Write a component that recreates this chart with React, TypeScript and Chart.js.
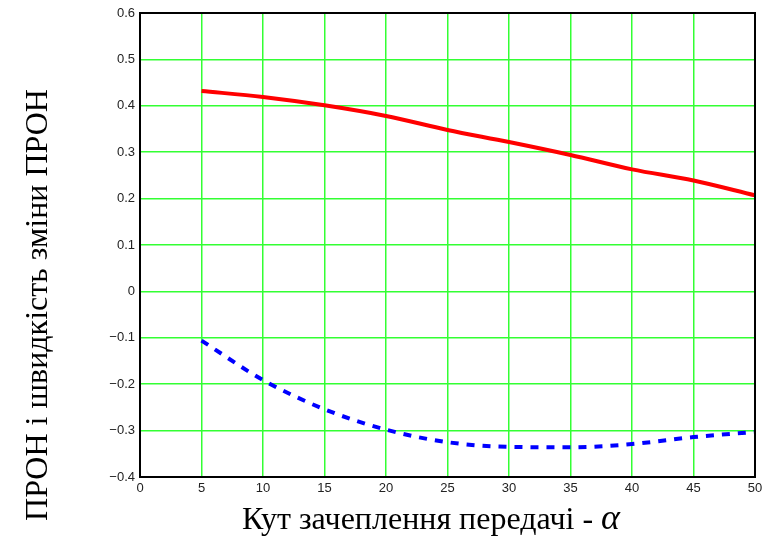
import React, { useEffect, useRef } from "react";
import { Chart, registerables } from "chart.js";

Chart.register(...registerables);

const xValues = [5, 10, 15, 20, 25, 30, 35, 40, 45, 50];
const pronValues = [0.432, 0.419, 0.401, 0.378, 0.348, 0.322, 0.294, 0.263, 0.239, 0.207];
const rateValues = [-0.106, -0.191, -0.254, -0.298, -0.325, -0.335, -0.336, -0.329, -0.314, -0.303];

const xTitle = "Кут зачеплення передачі - ";
const xTitleSymbol = "α";
const yTitle = "ПРОН і швидкість зміни ПРОН";

const SERIF = "'Liberation Serif', 'Times New Roman', serif";

const titlesPlugin = {
  id: "customTitles",
  afterDraw(chart: any) {
    const ctx = chart.ctx;
    const a = chart.chartArea;
    ctx.save();
    ctx.strokeStyle = "#000";
    ctx.lineWidth = 2;
    ctx.strokeRect(a.left, a.top, a.right - a.left, a.bottom - a.top);
    ctx.fillStyle = "#000";
    ctx.textBaseline = "alphabetic";
    ctx.font = "32px " + SERIF;
    const w1 = ctx.measureText(xTitle).width;
    ctx.font = "italic 36px " + SERIF;
    const w2 = ctx.measureText(xTitleSymbol).width;
    const start = 431 - (w1 + w2) / 2;
    ctx.font = "32px " + SERIF;
    ctx.textAlign = "left";
    ctx.fillText(xTitle, start, 529);
    ctx.font = "italic 36px " + SERIF;
    ctx.fillText(xTitleSymbol, start + w1, 529);
    ctx.translate(47, 305);
    ctx.rotate(-Math.PI / 2);
    ctx.font = "32px " + SERIF;
    ctx.textAlign = "center";
    ctx.fillText(yTitle, 0, 0);
    ctx.restore();
  },
};

export default function App() {
  const ref = useRef<HTMLCanvasElement>(null);
  useEffect(() => {
    if (!ref.current) return;
    const fmt = (v: number) => {
      const r = Math.round(v * 10) / 10;
      if (Math.abs(r) < 1e-9) return "0";
      return r < 0 ? "\u2212" + Math.abs(r).toString() : r.toString();
    };
    const chart = new Chart(ref.current, {
      type: "line",
      data: {
        datasets: [
          {
            data: xValues.map((x, i) => ({ x, y: pronValues[i] })),
            borderColor: "#ff0000",
            borderWidth: 4,
            pointRadius: 0,
            cubicInterpolationMode: "monotone",
            fill: false,
          },
          {
            data: xValues.map((x, i) => ({ x, y: rateValues[i] })),
            borderColor: "#0000ff",
            borderWidth: 4,
            borderDash: [8, 8],
            pointRadius: 0,
            cubicInterpolationMode: "monotone",
            fill: false,
          },
        ],
      },
      options: {
        animation: false,
        responsive: true,
        maintainAspectRatio: false,
        layout: { padding: { top: 13, right: 0, left: 0, bottom: 0 } },
        plugins: { legend: { display: false }, tooltip: { enabled: false } },
        scales: {
          x: {
            type: "linear",
            min: 0,
            max: 50,
            ticks: {
              stepSize: 5,
              color: "#222",
              padding: 4,
              maxRotation: 0,
              font: { family: "'Liberation Sans', Arial, sans-serif", size: 13 },
            },
            grid: { color: "#33ff33", lineWidth: 1.5, drawTicks: false },
            border: { display: true, color: "#000", width: 2 },
            afterFit: (s: any) => {
              s.height = 61;
              s.paddingRight = 8;
            },
          },
          y: {
            type: "linear",
            min: -0.4,
            max: 0.6,
            ticks: {
              stepSize: 0.1,
              color: "#222",
              padding: 5,
              callback: (v: any) => fmt(Number(v)),
              font: { family: "'Liberation Sans', Arial, sans-serif", size: 13 },
            },
            grid: { color: "#33ff33", lineWidth: 1.5, drawTicks: false },
            border: { display: true, color: "#000", width: 2 },
            afterFit: (s: any) => {
              s.width = 140;
            },
          },
        },
      },
      plugins: [titlesPlugin],
    });
    return () => chart.destroy();
  }, []);
  return (
    <div style={{ position: "fixed", left: 0, top: 0, width: 763, height: 538, background: "#fff" }}>
      <canvas ref={ref} />
    </div>
  );
}
